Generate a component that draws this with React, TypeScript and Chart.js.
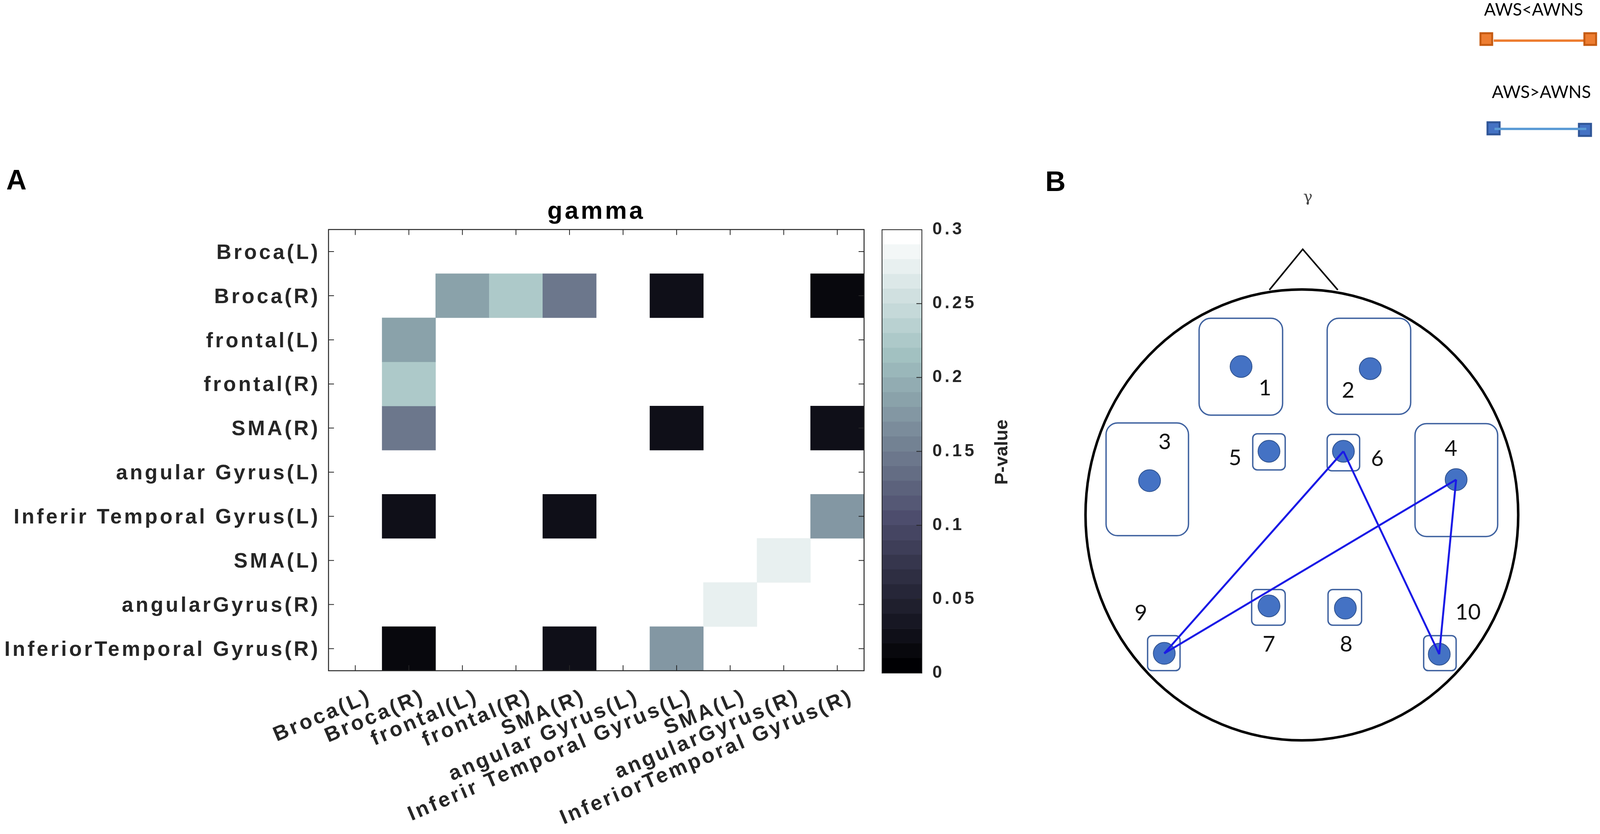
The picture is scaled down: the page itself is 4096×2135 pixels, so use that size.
import React, { useEffect, useRef } from 'react';
import { Chart, registerables } from 'chart.js';

Chart.register(...registerables);

const W = 4096;
const H = 2135;
const FONT = '"Liberation Sans", Arial, sans-serif';
const LABEL_FONT = 'Lato, "Open Sans", sans-serif';

// ---------------- Panel A: p-value matrix ----------------
const ROW_LABELS = [
  'Broca(L)', 'Broca(R)', 'frontal(L)', 'frontal(R)', 'SMA(R)',
  'angular Gyrus(L)', 'Inferir Temporal Gyrus(L)', 'SMA(L)', 'angularGyrus(R)', 'InferiorTemporal Gyrus(R)',
];
const COL_LABELS = [
  'Broca(L)', 'Broca(R)', 'frontal(L)', 'frontal(R)', 'SMA(R)',
  'angular Gyrus(L)', 'Inferir Temporal Gyrus(L)', 'SMA(L)', 'angularGyrus(R)', 'InferiorTemporal Gyrus(R)',
];
type PV = number | null;
const N = null;
// null = not significant (drawn white)
const P_BROCA_L: PV[] = [N, N, N, N, N, N, N, N, N, N];
const P_BROCA_R: PV[] = [N, N, 0.185, 0.225, 0.145, N, 0.025, N, N, 0.015];
const P_FRONTAL_L: PV[] = [N, 0.185, N, N, N, N, N, N, N, N];
const P_FRONTAL_R: PV[] = [N, 0.225, N, N, N, N, N, N, N, N];
const P_SMA_R: PV[] = [N, 0.145, N, N, N, N, 0.025, N, N, 0.025];
const P_ANGULAR_L: PV[] = [N, N, N, N, N, N, N, N, N, N];
const P_INFTEMP_L: PV[] = [N, 0.025, N, N, 0.025, N, N, N, N, 0.175];
const P_SMA_L: PV[] = [N, N, N, N, N, N, N, N, 0.275, N];
const P_ANGULAR_R: PV[] = [N, N, N, N, N, N, N, 0.275, N, N];
const P_INFTEMP_R: PV[] = [N, 0.015, N, N, 0.025, N, 0.175, N, N, N];
const P_MATRIX: PV[][] = [
  P_BROCA_L, P_BROCA_R, P_FRONTAL_L, P_FRONTAL_R, P_SMA_R,
  P_ANGULAR_L, P_INFTEMP_L, P_SMA_L, P_ANGULAR_R, P_INFTEMP_R,
];

// colour bar
const CB_MAX = 0.3;
const CB_LEVELS = 30;
const CB_TICKS = [0, 0.05, 0.1, 0.15, 0.2, 0.25, 0.3];
const CB_TICK_LABELS = ['0', '0.05', '0.1', '0.15', '0.2', '0.25', '0.3'];

// ---------------- Panel B: electrode layout ----------------
const ELECTRODE_IDS = [1, 2, 3, 4, 5, 6, 7, 8, 9, 10];
const ELECTRODE_X = [-28.1, 31.6, -70.4, 71.3, -15.2, 19.2, -15.2, 20.1, -63.6, 63.5];
const ELECTRODE_Y = [68.6, 67.6, 15.8, 16.3, 29.4, 29.4, -42.1, -43.1, -64.0, -64.4];
const LABEL_X = [-17.0, 21.4, -63.4, 68.9, -30.9, 34.9, -15.2, 20.5, -74.4, 76.8];
const LABEL_Y = [58.5, 57.5, 33.6, 30.6, 26.2, 25.8, -60.0, -60.0, -45.5, -45.1];
const BOX_X0 = [-47.5, 11.7, -90.5, 52.3, -22.7, 11.7, -23.2, 12.1, -71.3, 56.3];
const BOX_X1 = [-8.9, 50.3, -52.4, 90.5, -7.7, 26.7, -7.7, 27.6, -56.3, 71.3];
const BOX_Y0 = [46.1, 46.5, -9.6, -10.0, 20.8, 20.4, -51.0, -51.0, -72.0, -72.0];
const BOX_Y1 = [90.9, 90.9, 42.5, 42.2, 37.5, 37.2, -34.5, -34.5, -55.8, -55.8];
const CONNECTIONS: [number, number][] = [[9, 6], [9, 4], [6, 10], [4, 10]];
const HEAD_RX = 100;
const HEAD_RY = 104.2;
const NOSE_X = [-15.0, 0.4, 16.6];
const NOSE_Y = [104.0, 122.8, 104.0];
const GAMMA_X = 2.8;
const GAMMA_Y = 146.7;

const LEGEND_LABELS = ['AWS<AWNS', 'AWS>AWNS'];

// ---------------- helpers ----------------
function boneRGB(k: number, m: number): string {
  const g = (k - 1) / (m - 1);
  const n = Math.floor((3 / 8) * m);
  const rh = k <= n ? k / n : 1;
  const gh = k <= n ? 0 : k <= 2 * n ? (k - n) / n : 1;
  const bh = k <= 2 * n ? 0 : (k - 2 * n) / (m - 2 * n);
  const R = (7 * g + bh) / 8;
  const G = (7 * g + gh) / 8;
  const B = (7 * g + rh) / 8;
  return `rgb(${Math.round(R * 255)},${Math.round(G * 255)},${Math.round(B * 255)})`;
}
function levelOf(v: number): number {
  return Math.min(CB_LEVELS, Math.floor((v / CB_MAX) * CB_LEVELS + 1e-9) + 1);
}
function spacing(px: string) {
  return {
    id: 'letterSpacing',
    beforeLayout(chart: any) { chart.ctx.letterSpacing = px; },
    beforeDraw(chart: any) { chart.ctx.letterSpacing = px; },
  };
}
function roundRectPath(ctx: any, x: number, y: number, w: number, h: number, r: number) {
  ctx.beginPath();
  ctx.moveTo(x + r, y);
  ctx.lineTo(x + w - r, y);
  ctx.arcTo(x + w, y, x + w, y + r, r);
  ctx.lineTo(x + w, y + h - r);
  ctx.arcTo(x + w, y + h, x + w - r, y + h, r);
  ctx.lineTo(x + r, y + h);
  ctx.arcTo(x, y + h, x, y + h - r, r);
  ctx.lineTo(x, y + r);
  ctx.arcTo(x, y, x + r, y, r);
  ctx.closePath();
}

export default function App() {
  const aRef = useRef<HTMLCanvasElement>(null);
  const cbRef = useRef<HTMLCanvasElement>(null);
  const bRef = useRef<HTMLCanvasElement>(null);

  useEffect(() => {
    const charts: any[] = [];

    // ---------- Panel A heatmap ----------
    const heatDatasets = P_MATRIX.map((row, r) => ({
      label: ROW_LABELS[r],
      data: row.map((v) => (v == null ? null : [r - 0.5, r + 0.5])),
      backgroundColor: row.map((v) => (v == null ? 'rgba(0,0,0,0)' : boneRGB(levelOf(v), CB_LEVELS))),
      borderWidth: 0,
      grouped: false,
      barPercentage: 1,
      categoryPercentage: 1,
    }));

    const framePlugin = {
      id: 'frame',
      afterDatasetsDraw(chart: any) {
        const { ctx, chartArea, scales } = chart;
        const { left, right, top, bottom } = chartArea;
        const TICK = 14;
        ctx.save();
        ctx.strokeStyle = '#262626';
        ctx.lineWidth = 2;
        ctx.beginPath();
        COL_LABELS.forEach((_, i) => {
          const px = scales.x.getPixelForValue(i);
          ctx.moveTo(px, top); ctx.lineTo(px, top + TICK);
          ctx.moveTo(px, bottom); ctx.lineTo(px, bottom - TICK);
        });
        ROW_LABELS.forEach((_, i) => {
          const py = scales.y.getPixelForValue(i);
          ctx.moveTo(left, py); ctx.lineTo(left + TICK, py);
          ctx.moveTo(right, py); ctx.lineTo(right - TICK, py);
        });
        ctx.stroke();
        ctx.lineWidth = 2.5;
        ctx.strokeRect(left, top, right - left, bottom - top);
        ctx.restore();
      },
      afterDraw(chart: any) {
        const { ctx } = chart;
        ctx.save();
        ctx.letterSpacing = '0px';
        ctx.fillStyle = '#000';
        ctx.font = `bold 72px ${FONT}`;
        ctx.textAlign = 'left';
        ctx.textBaseline = 'alphabetic';
        ctx.fillText('A', 16, 485);
        ctx.restore();
      },
    };

    const axisFont = { family: FONT, size: 53, weight: 'bold' as const };
    charts.push(new Chart(aRef.current as HTMLCanvasElement, {
      type: 'bar',
      data: { labels: COL_LABELS, datasets: heatDatasets as any },
      options: {
        responsive: false,
        animation: false,
        devicePixelRatio: 1,
        layout: { padding: { left: 0, right: 28, top: 0, bottom: 0 } },
        plugins: {
          legend: { display: false },
          tooltip: { enabled: false },
          title: {
            display: true,
            text: 'gamma',
            fullSize: false,
            color: '#000',
            font: { family: FONT, size: 63, weight: 'bold' },
            padding: { top: 505, bottom: 7 },
          },
        },
        scales: {
          x: {
            type: 'category',
            offset: true,
            grid: { display: false, drawTicks: false },
            border: { display: false },
            ticks: {
              autoSkip: false,
              maxRotation: 23,
              minRotation: 23,
              padding: 35,
              labelOffset: 38,
              color: '#262626',
              font: axisFont,
            },
            afterFit: (s: any) => { s.height = 418; },
          },
          y: {
            type: 'linear',
            min: -0.5,
            max: 9.5,
            reverse: true,
            grid: { display: false, drawTicks: false },
            border: { display: false },
            afterBuildTicks: (s: any) => { s.ticks = ROW_LABELS.map((_, i) => ({ value: i })); },
            ticks: {
              autoSkip: false,
              padding: 21,
              labelOffset: 4,
              color: '#262626',
              font: axisFont,
              callback: (v: any) => ROW_LABELS[Number(v)] ?? '',
            },
            afterFit: (s: any) => { s.width = 841; },
          },
        },
      } as any,
      plugins: [spacing('6px'), framePlugin] as any,
    }));

    // ---------- Colour bar ----------
    const levels = Array.from({ length: CB_LEVELS }, (_, i) => i + 1);
    const step = CB_MAX / CB_LEVELS;
    const cbPlugin = {
      id: 'cbFrame',
      afterDatasetsDraw(chart: any) {
        const { ctx, chartArea, scales } = chart;
        const { left, right, top, bottom } = chartArea;
        ctx.save();
        ctx.strokeStyle = '#262626';
        ctx.lineWidth = 2;
        ctx.beginPath();
        CB_TICKS.forEach((t) => {
          const py = scales.y.getPixelForValue(t);
          ctx.moveTo(right, py); ctx.lineTo(right - 14, py);
        });
        ctx.stroke();
        ctx.strokeRect(left, top, right - left, bottom - top);
        ctx.letterSpacing = '0px';
        ctx.fillStyle = '#262626';
        ctx.font = `bold 47px ${FONT}`;
        ctx.textAlign = 'center';
        ctx.textBaseline = 'middle';
        ctx.translate(right + 206, scales.y.getPixelForValue(0.15) + 2);
        ctx.rotate(-Math.PI / 2);
        ctx.fillText('P-value', 0, 0);
        ctx.restore();
      },
    };
    charts.push(new Chart(cbRef.current as HTMLCanvasElement, {
      type: 'bar',
      data: {
        labels: ['P-value'],
        datasets: levels.map((k) => ({
          data: [[(k - 1) * step, k * step]],
          backgroundColor: boneRGB(k, CB_LEVELS),
          borderWidth: 0,
          grouped: false,
          barPercentage: 1,
          categoryPercentage: 1,
        })) as any,
      },
      options: {
        responsive: false,
        animation: false,
        devicePixelRatio: 1,
        layout: { padding: { left: 18, right: 0, top: 588, bottom: 412 } },
        plugins: { legend: { display: false }, tooltip: { enabled: false } },
        scales: {
          x: { display: false },
          y: {
            position: 'right',
            min: 0,
            max: CB_MAX,
            grid: { display: false, drawTicks: false },
            border: { display: false },
            afterBuildTicks: (s: any) => { s.ticks = CB_TICKS.map((v) => ({ value: v })); },
            ticks: {
              autoSkip: false,
              padding: 27,
              color: '#262626',
              font: { family: FONT, size: 44, weight: 'bold' },
              callback: (v: any) => CB_TICK_LABELS[CB_TICKS.indexOf(Number(v))] ?? '',
            },
            afterFit: (s: any) => { s.width = 320; },
          },
        },
      } as any,
      plugins: [spacing('7px'), cbPlugin] as any,
    }));

    // ---------- Panel B: head diagram ----------
    const headPlugin = {
      id: 'head',
      beforeDatasetsDraw(chart: any) {
        const { ctx, scales } = chart;
        const X = (v: number) => scales.x.getPixelForValue(v);
        const Y = (v: number) => scales.y.getPixelForValue(v);
        ctx.save();
        ctx.letterSpacing = '0px';
        // head outline
        ctx.strokeStyle = '#000';
        ctx.lineWidth = 6.5;
        ctx.beginPath();
        ctx.ellipse(X(0), Y(0), X(HEAD_RX) - X(0), Y(0) - Y(HEAD_RY), 0, 0, Math.PI * 2);
        ctx.stroke();
        // nose
        ctx.lineWidth = 4;
        ctx.beginPath();
        NOSE_X.forEach((nx, i) => {
          if (i === 0) ctx.moveTo(X(nx), Y(NOSE_Y[i])); else ctx.lineTo(X(nx), Y(NOSE_Y[i]));
        });
        ctx.stroke();
        // electrode boxes
        ctx.strokeStyle = '#3f62a0';
        ctx.lineWidth = 3.5;
        ELECTRODE_IDS.forEach((_, i) => {
          const l = X(BOX_X0[i]);
          const r = X(BOX_X1[i]);
          const t = Y(BOX_Y1[i]);
          const b = Y(BOX_Y0[i]);
          const rad = Math.min(r - l, b - t) * 0.14;
          roundRectPath(ctx, l, t, r - l, b - t, rad);
          ctx.stroke();
        });
        // electrode numbers
        ctx.fillStyle = '#111';
        ctx.font = `56px ${LABEL_FONT}`;
        ctx.textAlign = 'center';
        ctx.textBaseline = 'middle';
        ELECTRODE_IDS.forEach((id, i) => {
          ctx.fillText(String(id), X(LABEL_X[i]), Y(LABEL_Y[i]));
        });
        // band symbol
        ctx.fillStyle = '#444';
        ctx.font = '40px "DejaVu Serif", serif';
        ctx.fillText('γ', X(GAMMA_X), Y(GAMMA_Y));
        // panel letter
        ctx.fillStyle = '#000';
        ctx.font = `bold 72px ${FONT}`;
        ctx.textAlign = 'left';
        ctx.textBaseline = 'alphabetic';
        ctx.fillText('B', 76, 489);
        ctx.restore();
      },
      afterDraw(chart: any) {
        const { ctx } = chart;
        ctx.save();
        ctx.letterSpacing = '0px';
        ctx.fillStyle = '#000';
        ctx.font = `44px ${LABEL_FONT}`;
        ctx.textAlign = 'center';
        ctx.textBaseline = 'alphabetic';
        ctx.fillText(LEGEND_LABELS[0], 1326, 40);
        ctx.fillText(LEGEND_LABELS[1], 1346, 251);
        // orange item
        ctx.strokeStyle = '#ed7d31';
        ctx.lineWidth = 6;
        ctx.beginPath(); ctx.moveTo(1224, 104); ctx.lineTo(1458, 104); ctx.stroke();
        ctx.fillStyle = '#ed7d31';
        ctx.strokeStyle = '#c55a11';
        ctx.lineWidth = 5;
        [[1190, 85], [1456, 85]].forEach(([sx, sy]) => {
          ctx.fillRect(sx, sy, 30, 30);
          ctx.strokeRect(sx, sy, 30, 30);
        });
        // blue item
        ctx.fillStyle = '#4472c4';
        ctx.strokeStyle = '#2f5597';
        [[1208, 313], [1442, 317]].forEach(([sx, sy]) => {
          ctx.fillRect(sx, sy, 31, 31);
          ctx.strokeRect(sx, sy, 31, 31);
        });
        ctx.strokeStyle = '#5b9bd5';
        ctx.lineWidth = 6;
        ctx.beginPath(); ctx.moveTo(1226, 330); ctx.lineTo(1461, 330); ctx.stroke();
        ctx.restore();
      },
    };

    const pts = ELECTRODE_X.map((x, i) => ({ x, y: ELECTRODE_Y[i] }));
    const lineSets = CONNECTIONS.map(([a, b]) => ({
      data: [pts[a - 1], pts[b - 1]],
      showLine: true,
      borderColor: '#1a1ae6',
      borderWidth: 5,
      pointRadius: 0,
      fill: false,
      order: 0,
    }));
    charts.push(new Chart(bRef.current as HTMLCanvasElement, {
      type: 'scatter',
      data: {
        datasets: [
          ...lineSets,
          {
            data: pts,
            pointRadius: 28,
            pointBackgroundColor: '#4472c4',
            pointBorderColor: '#2f528f',
            pointBorderWidth: 2,
            showLine: false,
            order: 1,
          },
        ] as any,
      },
      options: {
        responsive: false,
        animation: false,
        devicePixelRatio: 1,
        layout: { padding: 0, autoPadding: false },
        plugins: { legend: { display: false }, tooltip: { enabled: false } },
        scales: {
          x: { type: 'linear', display: false, min: -132.3, max: 137.8 },
          y: { type: 'linear', display: false, min: -147.5, max: 238.0 },
        },
      } as any,
      plugins: [headPlugin] as any,
    }));

    return () => { charts.forEach((c) => c.destroy()); };
  }, []);

  return (
    <div style={{ position: 'fixed', left: 0, top: 0, width: W, height: H, background: '#fff', overflow: 'hidden' }}>
      <canvas ref={aRef} width={2240} height={H} style={{ position: 'absolute', left: 0, top: 0, width: 2240, height: H }} />
      <canvas ref={cbRef} width={440} height={H} style={{ position: 'absolute', left: 2240, top: 0, width: 440, height: H }} />
      <canvas ref={bRef} width={1496} height={H} style={{ position: 'absolute', left: 2600, top: 0, width: 1496, height: H }} />
    </div>
  );
}
